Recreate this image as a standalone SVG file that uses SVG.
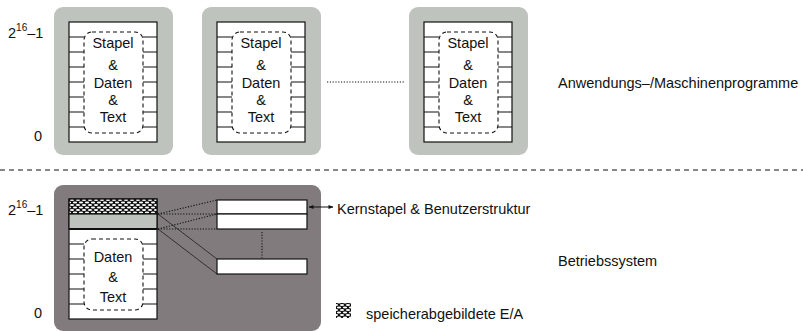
<svg xmlns="http://www.w3.org/2000/svg" width="803" height="331" viewBox="0 0 803 331">
<defs>
<style>
.t{font-family:"Liberation Sans",Arial,sans-serif;font-size:14.5px;fill:#111}
.c{text-anchor:middle}
.panel{fill:#bfc3bd}
.col{fill:#fff;stroke:#111;stroke-width:1.2}
.tick{stroke:#111;stroke-width:1.1}
.dash{fill:none;stroke:#111;stroke-width:1.1;stroke-dasharray:4,3}
.dot{stroke:#111;stroke-width:1.1;stroke-dasharray:1.2,1.6;fill:none}
.thin{stroke:#111;stroke-width:0.7;fill:none}
.box{fill:#fff;stroke:#111;stroke-width:1.2}
</style>
<pattern id="hatch" width="6" height="5" patternUnits="userSpaceOnUse">
<rect width="6" height="5" fill="#111"/>
<ellipse cx="3" cy="2.5" rx="2.1" ry="1.0" fill="#fff"/>
<ellipse cx="0" cy="0" rx="2.1" ry="1.0" fill="#fff"/>
<ellipse cx="6" cy="0" rx="2.1" ry="1.0" fill="#fff"/>
<ellipse cx="0" cy="5" rx="2.1" ry="1.0" fill="#fff"/>
<ellipse cx="6" cy="5" rx="2.1" ry="1.0" fill="#fff"/>
</pattern>
<marker id="ah" viewBox="0 0 10 10" refX="9" refY="5" markerWidth="7" markerHeight="5" orient="auto-start-reverse" markerUnits="userSpaceOnUse">
<path d="M0,1 L10,5 L0,9 z" fill="#111"/>
</marker>
<g id="ticks">
<path class="tick" d="M69,37H84M69,52H84M69,67H84M69,82H84M69,97H84M69,112H84M69,127H84M143,37H157M143,52H157M143,67H157M143,82H157M143,97H157M143,112H157M143,127H157"/>
</g>
</defs>

<rect width="803" height="331" fill="#fff"/>

<g id="axis-top">
<text class="t" x="8" y="38">2<tspan font-size="10" dy="-7">16</tspan><tspan dy="7">–1</tspan></text>
<text class="t" x="34" y="141">0</text>
</g>

<g id="prog1">
<rect class="panel" x="54" y="7" width="119" height="148" rx="9"/>
<rect class="col" x="69" y="22" width="88" height="120"/>
<use href="#ticks"/>
<rect class="dash" x="84" y="32" width="59" height="101" rx="8" fill="#fff"/>
<text class="t c" x="113" y="48">Stapel</text>
<text class="t c" x="113" y="70">&amp;</text>
<text class="t c" x="113" y="88">Daten</text>
<text class="t c" x="113" y="105">&amp;</text>
<text class="t c" x="113" y="122">Text</text>
</g>

<g id="prog2">
<rect class="panel" x="202" y="7" width="119" height="148" rx="9"/>
<rect class="col" x="217" y="22" width="88" height="120"/>
<use href="#ticks" x="148"/>
<rect class="dash" x="232" y="32" width="59" height="101" rx="8" fill="#fff"/>
<text class="t c" x="261" y="48">Stapel</text>
<text class="t c" x="261" y="70">&amp;</text>
<text class="t c" x="261" y="88">Daten</text>
<text class="t c" x="261" y="105">&amp;</text>
<text class="t c" x="261" y="122">Text</text>
</g>

<g id="prog3">
<rect class="panel" x="409" y="7" width="119" height="148" rx="9"/>
<rect class="col" x="424" y="22" width="88" height="120"/>
<use href="#ticks" x="355"/>
<rect class="dash" x="439" y="32" width="59" height="101" rx="8" fill="#fff"/>
<text class="t c" x="468" y="48">Stapel</text>
<text class="t c" x="468" y="70">&amp;</text>
<text class="t c" x="468" y="88">Daten</text>
<text class="t c" x="468" y="105">&amp;</text>
<text class="t c" x="468" y="122">Text</text>
</g>

<g id="label-top">
<text class="t" x="558" y="88">Anwendungs–/Maschinenprogramme</text>
</g>

<line x1="0" y1="170" x2="803" y2="170" stroke="#111" stroke-width="1" stroke-dasharray="5,4"/>

<g id="axis-bottom">
<text class="t" x="8" y="215">2<tspan font-size="10" dy="-7">16</tspan><tspan dy="7">–1</tspan></text>
<text class="t" x="34" y="318">0</text>
</g>

<g id="kernel">
<rect x="54" y="185" width="267" height="146" rx="9" fill="#817b7e"/>
<rect class="col" x="69" y="199" width="88" height="120"/>
<rect x="69" y="199" width="88" height="15" fill="url(#hatch)" stroke="#111" stroke-width="1.2"/>
<rect x="69" y="214" width="88" height="15" fill="#bfc3bd" stroke="#111" stroke-width="1.2"/>
<line x1="69" y1="229" x2="157" y2="229" stroke="#111" stroke-width="2"/>
<path class="tick" d="M69,244H84M69,259H84M69,274H84M69,289H84M69,304H84M143,244H157M143,259H157M143,274H157M143,289H157M143,304H157"/>
<rect class="dash" x="84" y="239" width="59" height="71" rx="8" fill="#fff"/>
<text class="t c" x="113" y="262">Daten</text>
<text class="t c" x="113" y="282">&amp;</text>
<text class="t c" x="113" y="302">Text</text>
</g>

<g id="ustruct">
<rect class="box" x="217" y="200" width="90" height="14"/>
<rect class="box" x="217" y="214" width="90" height="15"/>
<rect class="box" x="217" y="259" width="90" height="15"/>
</g>

<g id="connectors">
<line class="dot" x1="327" y1="82" x2="404" y2="82"/>
<line class="dot" x1="158" y1="214" x2="217" y2="200"/>
<line class="dot" x1="158" y1="214" x2="217" y2="214"/>
<line class="thin" x1="158" y1="214" x2="217" y2="259"/>
<line class="dot" x1="158" y1="229" x2="217" y2="214"/>
<line class="dot" x1="158" y1="229" x2="217" y2="229"/>
<line class="thin" x1="158" y1="229" x2="217" y2="274"/>
<line class="dot" x1="262" y1="232" x2="262" y2="258"/>
<line x1="309" y1="207" x2="333" y2="207" stroke="#111" stroke-width="1" marker-start="url(#ah)" marker-end="url(#ah)"/>
</g>

<g id="labels-bottom">
<text class="t" x="337" y="214">Kernstapel &amp; Benutzerstruktur</text>
<text class="t" x="558" y="266">Betriebssystem</text>
<rect x="336" y="303" width="15" height="15" fill="url(#hatch)"/>
<text class="t" x="366" y="319">speicherabgebildete E/A</text>
</g>
</svg>
